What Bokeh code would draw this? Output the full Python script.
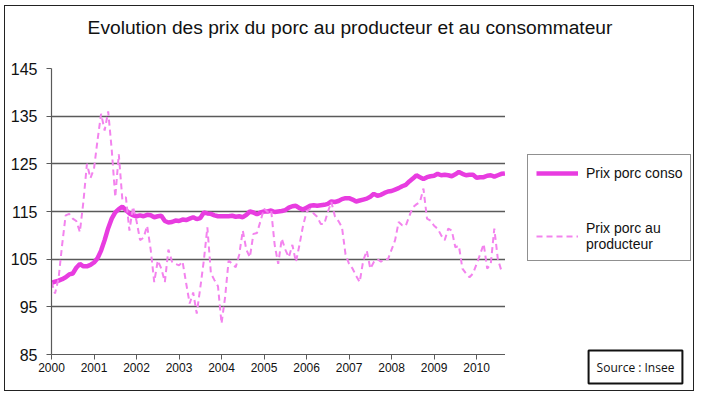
from bokeh.plotting import figure
from bokeh.layouts import column, row
from bokeh.models import Range1d, FixedTicker, Legend, LegendItem, Label
from bokeh.embed import file_html
from bokeh.resources import INLINE

# ---- data (monthly indices, Jan 2000 onward) ----
start_year = 2000
conso = [
    100, 100.3, 100.5, 100.8, 101.2, 101.8, 102, 103.2, 104, 103.5, 103.5, 103.8,          # 2000
    104.3, 105.2, 106.8, 109, 111.5, 113.5, 114.8, 115.5, 116, 115.3, 114.6, 114.2,        # 2001
    114, 114.2, 114, 114.3, 114.2, 113.8, 114, 114.1, 113, 112.7, 112.8, 113.1,            # 2002
    113, 113.3, 113.2, 113.5, 113.8, 113.4, 113.6, 114.8, 114.6, 114.5, 114.2, 114,        # 2003
    114, 114, 114, 114.1, 113.9, 114, 113.8, 114.3, 115, 114.8, 114.4, 114.8,              # 2004
    115, 115, 115.2, 114.9, 115, 115.1, 115.3, 115.8, 116.1, 116.2, 115.7, 115.4,          # 2005
    115.8, 116.2, 116.3, 116.2, 116.3, 116.4, 116.6, 117.1, 117, 117.2, 117.6, 117.8,      # 2006
    117.8, 117.5, 117.1, 117.3, 117.5, 117.7, 118.1, 118.7, 118.3, 118.5, 118.9, 119.2,    # 2007
    119.3, 119.6, 119.9, 120.3, 120.6, 121.3, 121.9, 122.6, 122.2, 121.8, 122.2, 122.4,    # 2008
    122.5, 122.9, 122.6, 122.7, 122.6, 122.4, 122.8, 123.3, 122.9, 122.6, 122.7, 122.7,    # 2009
    122.1, 122.2, 122.2, 122.5, 122.6, 122.3, 122.6, 122.9, 123,                           # 2010
]
producteur = [
    100.2, 97.8, 101, 108, 114.2, 114.5, 113.5, 113, 110.7, 117, 125, 122,                 # 2000
    124, 130, 135.5, 132, 136, 128, 118, 127, 117.5, 118, 111, 116,                        # 2001
    113, 109, 109.5, 112, 107, 100.2, 104.7, 103, 100.2, 107, 104.5, 104,                  # 2002
    103.7, 104.5, 100, 95.7, 98, 93.6, 99, 104.7, 111.7, 102, 100.6, 99.3,                 # 2003
    91.5, 97, 104.7, 104, 103.3, 106, 111, 107, 105.4, 110.3, 110.5, 113,                  # 2004
    115.6, 114.9, 115.3, 108, 104, 109.3, 107, 105.4, 108, 104.4, 108, 112,                # 2005
    114.9, 115.6, 114.6, 113.9, 112.4, 112.4, 114.9, 117, 114, 113, 111.7, 106,            # 2006
    104, 103, 101.5, 100.2, 104.7, 106.8, 103, 104.4, 105, 104.5, 105, 105,                # 2007
    107, 109, 112.8, 112.1, 112, 114, 115.9, 116.5, 117, 119.8, 113.5, 113.1,              # 2008
    112, 111.4, 110, 109, 111.4, 111, 107.5, 107.8, 103, 102, 101.2, 102,                  # 2009
    104, 106, 108.2, 103, 104, 111.4, 105, 102.6,                                          # 2010
]
year_ticks = [2000, 2001, 2002, 2003, 2004, 2005, 2006, 2007, 2008, 2009, 2010]
year_labels = ["2000", "2001", "2002", "2003", "2004", "2005", "2006", "2007", "2008", "2009", "2010"]
y_ticks = [85, 95, 105, 115, 125, 135, 145]
title_text = "Evolution des prix du porc au producteur et au consommateur"
legend_labels = ["Prix porc conso", "Prix porc au\nproducteur"]
source_text = "Source : Insee"

x_conso = [start_year + i / 12 for i in range(len(conso))]
x_prod = [start_year + i / 12 for i in range(len(producteur))]

FONT = "Liberation Sans"
C_CONSO = "#E83CE0"
C_PROD = "#F383EE"
TOTAL_W = 688
TITLE_H = 53
MAIN_W, MAIN_H = 500, 331
SIDE_W = TOTAL_W - MAIN_W


def blank_fig(w, h):
    f = figure(width=w, height=h, output_backend="svg", toolbar_location=None,
               x_range=Range1d(0, w), y_range=Range1d(0, h),
               x_axis_location=None, y_axis_location=None,
               min_border_left=0, min_border_right=0, min_border_top=0, min_border_bottom=0)
    f.outline_line_color = None
    f.grid.visible = False
    f.background_fill_color = "white"
    f.border_fill_color = "white"
    f.frame_align = False
    return f


# ---- title strip ----
pt = blank_fig(TOTAL_W, TITLE_H)
pt.add_layout(Label(x=344.5, y=32.5, text=title_text, text_align="center",
                    text_baseline="alphabetic", text_font=FONT, text_font_size="19.2px",
                    text_color="#111111"))

# ---- main chart ----
p = figure(width=MAIN_W, height=MAIN_H, output_backend="svg", toolbar_location=None,
           x_range=Range1d(2000, 2010.68), y_range=Range1d(85, 145),
           min_border_left=46, min_border_right=0, min_border_top=9, min_border_bottom=36)
p.outline_line_color = None
p.background_fill_color = "white"
p.border_fill_color = "white"
p.xgrid.grid_line_color = None
p.ygrid.grid_line_color = "#5a5a5a"
p.ygrid.grid_line_width = 1.5

p.xaxis.ticker = FixedTicker(ticks=year_ticks)
p.xaxis.major_label_overrides = {t: l for t, l in zip(year_ticks, year_labels)}
p.yaxis.ticker = FixedTicker(ticks=y_ticks)
for ax in (p.xaxis, p.yaxis):
    ax.axis_line_color = "#5a5a5a"
    ax.axis_line_width = 1.2
    ax.major_tick_line_color = "#5a5a5a"
    ax.major_tick_in = 0
    ax.major_tick_out = 5
    ax.minor_tick_line_color = None
    ax.major_label_text_font = FONT
    ax.major_label_text_color = "#111111"
p.xaxis.major_label_text_font_size = "12px"
p.xaxis.major_label_standoff = 3
p.yaxis.major_label_text_font_size = "16px"
p.yaxis.major_label_standoff = 9

p.line(x_conso, conso, line_color=C_CONSO, line_width=4.5)
p.line(x_prod, producteur, line_color=C_PROD, line_width=2, line_dash="6 4")

# ---- side panel: legend + source ----
ps = blank_fig(SIDE_W, MAIN_H)
# same series drawn here (outside this panel's visible range) only to feed the legend glyphs
lr1 = ps.line(x_conso, conso, line_color=C_CONSO, line_width=4.5)
lr2 = ps.line(x_prod, producteur, line_color=C_PROD, line_width=2, line_dash="6 4")
legend = Legend(items=[LegendItem(label=legend_labels[0], renderers=[lr1]),
                       LegendItem(label=legend_labels[1], renderers=[lr2])],
                location=(22, 129), orientation="vertical")
legend.border_line_color = "#222222"
legend.border_line_width = 1.2
legend.padding = 8
legend.margin = 0
legend.spacing = 37
legend.glyph_width = 42
legend.label_standoff = 8
legend.label_text_font = FONT
legend.label_text_font_size = "14px"
legend.label_text_color = "#111111"
ps.add_layout(legend, "center")

ps.add_layout(Label(x=130, y=23.5, text=source_text, text_align="center",
                    text_baseline="middle", text_font="Open Sans", text_font_size="12px",
                    text_color="#111111", border_line_color="#111111", border_line_width=2,
                    padding=8, background_fill_color="white"))

layout = column(pt, row(p, ps, spacing=0), spacing=0)
layout.styles = {"border": "1.5px solid #222222", "margin": "5px 0 0 4px"}

open("out.html", "w").write(file_html(layout, INLINE))
